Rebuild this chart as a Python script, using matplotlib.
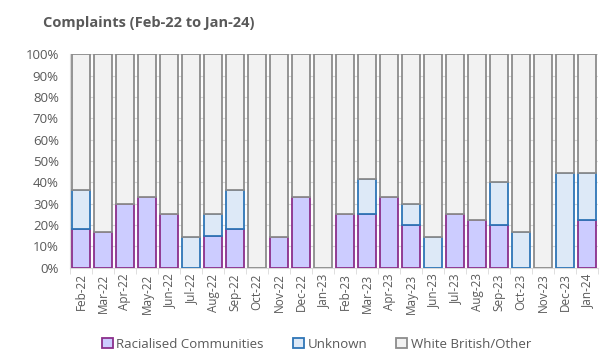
import numpy as np
import matplotlib.pyplot as plt
from matplotlib.patches import Patch

months = ['Feb-22', 'Mar-22', 'Apr-22', 'May-22', 'Jun-22', 'Jul-22', 'Aug-22', 'Sep-22',
          'Oct-22', 'Nov-22', 'Dec-22', 'Jan-23', 'Feb-23', 'Mar-23', 'Apr-23', 'May-23',
          'Jun-23', 'Jul-23', 'Aug-23', 'Sep-23', 'Oct-23', 'Nov-23', 'Dec-23', 'Jan-24']
# percentages of complaints
racialised = [18.2, 16.7, 30.0, 33.3, 25.0, 0.0, 15.0, 18.2,
              0.0, 14.3, 33.3, 0.0, 25.0, 25.0, 33.3, 20.0,
              0.0, 25.0, 22.2, 20.0, 0.0, 0.0, 0.0, 22.2]
unknown = [18.2, 0.0, 0.0, 0.0, 0.0, 14.3, 10.0, 18.2,
           0.0, 0.0, 0.0, 0.0, 0.0, 16.7, 0.0, 10.0,
           14.3, 0.0, 0.0, 20.0, 16.7, 0.0, 44.4, 22.2]

racialised = np.array(racialised)
unknown = np.array(unknown)
white = 100 - racialised - unknown

fig = plt.figure(figsize=(6.03, 3.61), dpi=100)
plt.rcParams['font.family'] = ['Open Sans', 'DejaVu Sans']
ax = fig.add_axes([0.116, 0.258, 0.876, 0.592])

x = np.arange(len(months))
w = 0.84
series = [
    (racialised, '#ccccff', '#8b2f8b', 'Racialised Communities'),
    (unknown, '#dde9f7', '#2e75b6', 'Unknown'),
    (white, '#f2f2f2', '#8c8c8c', 'White British/Other'),
]
bottom = np.zeros(len(months))
for vals, fc, ec, name in series:
    lw = np.where(vals > 0, 1.3, 0)
    ax.bar(x, vals, w, bottom=bottom, color=fc, edgecolor=ec, linewidth=lw, zorder=3)
    bottom = bottom + vals

ax.set_xlim(-0.5, len(months) - 0.5)
ax.set_ylim(0, 100)
ax.set_yticks(np.arange(0, 101, 10))
ax.set_yticklabels(['%d%%' % v for v in range(0, 101, 10)])
ax.set_xticks(x)
ax.set_xticklabels(months, rotation=90)
ax.set_xticks(np.arange(-0.5, len(months), 1), minor=True)
ax.tick_params(axis='x', which='major', length=0, pad=4, labelsize=8.5, labelcolor='#595959')
ax.tick_params(axis='x', which='minor', length=4, color='#d9d9d9')
ax.tick_params(axis='y', length=0, pad=8, labelsize=9.5, labelcolor='#595959')
ax.grid(axis='y', color='#d9d9d9', linewidth=0.8, zorder=0)
for s in ['top', 'right']:
    ax.spines[s].set_visible(False)
ax.spines['left'].set_color('#d9d9d9')
ax.spines['bottom'].set_color('#d9d9d9')

fig.text(0.071, 0.935, 'Complaints (Feb-22 to Jan-24)', fontsize=10.5, fontweight='bold',
         color='#595959', va='center')

handles = [Patch(facecolor=fc, edgecolor=ec, linewidth=1.3, label=name) for _, fc, ec, name in series]
fig.legend(handles=handles, loc='center', bbox_to_anchor=(0.525, 0.047), ncol=3, frameon=False,
           fontsize=9.5, labelcolor='#595959', handlelength=0.8, handleheight=0.8,
           handletextpad=0.3, columnspacing=2.2)

plt.savefig('out.png', dpi=100)
